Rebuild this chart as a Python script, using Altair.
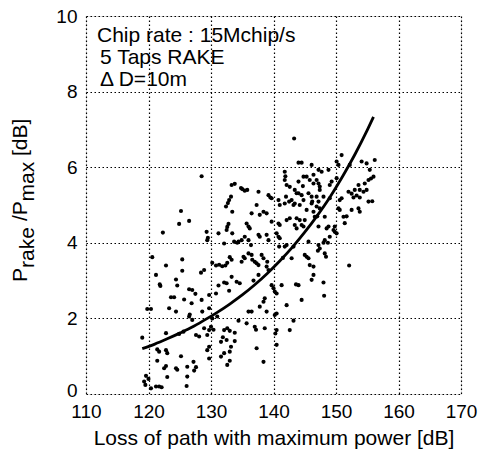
import altair as alt
import pandas as pd

# Scatter data: loss (dB) and Prake/Pmax (dB)
x_loss = [
    120.6, 122.8, 125.4, 125.4, 121.2, 121.8, 121.9, 124.4, 124.6, 126.5, 127.0, 124.1, 125.7, 128.4, 128.9,
    130.2, 130.8, 131.3, 131.8, 132.3, 132.6, 129.7, 130.8, 131.2, 132.1, 132.9, 128.5, 126.9, 119.8, 120.4,
    123.3, 124.4, 126.5, 127.0, 128.6, 129.7, 130.2, 131.0, 132.1, 132.6, 119.0, 121.4, 121.7, 122.8, 122.8,
    123.0, 124.9, 127.6, 128.1, 128.9, 129.7, 129.4, 131.9, 131.6, 133.2, 125.2, 126.2, 127.6, 127.3, 124.4,
    124.6, 122.8, 122.5, 121.4, 119.6, 119.3, 119.5, 121.2, 121.7, 122.1, 126.1, 126.2, 129.7, 131.6, 132.1,
    132.6, 129.7, 129.4, 130.0, 120.0, 120.4, 123.6,
    128.5, 125.2, 124.9, 126.5, 122.3, 129.3, 129.4, 129.5, 131.2, 132.5, 132.6, 132.8, 132.4, 132.7, 132.9,
    133.2, 133.4, 133.3, 132.1,
    141.8, 141.9, 141.8, 142.1, 144.8, 145.3, 146.4, 146.9, 133.8, 135.4, 137.6, 139.2, 139.7, 140.8, 142.0,
    143.4, 144.0, 144.5, 145.6, 146.1, 146.2, 147.4, 143.4, 144.2, 145.3, 146.6, 141.0, 141.8, 142.5, 138.4,
    138.9, 137.3, 136.5, 137.8, 139.7, 140.8, 141.0, 142.1, 142.6, 143.7, 144.2, 145.0, 143.4, 143.7, 144.5,
    144.8, 146.4, 135.7, 136.0, 136.2, 135.4, 136.0, 136.4, 137.6, 137.8, 138.9, 139.2, 140.5, 140.8, 141.0,
    141.8, 142.1, 134.4, 134.9, 133.7, 133.4, 133.0, 133.3, 135.2, 135.4, 134.9, 136.0, 136.5, 137.0, 137.3,
    137.6, 138.1, 138.4, 138.9, 139.2, 142.9, 143.2, 145.6, 145.0, 145.3, 145.6, 145.8, 146.4, 147.2, 147.4,
    148.2, 146.4, 135.0,
    133.3, 134.1, 134.6, 132.5, 137.6, 139.7, 140.0, 140.2, 140.5, 141.3, 144.0, 146.1, 144.5, 142.1, 138.6,
    138.4, 137.8, 138.9, 136.0, 136.5, 140.5, 140.2, 134.4, 135.7, 137.0, 138.6, 140.5, 140.3, 143.2, 142.6,
    133.0, 133.8, 132.5, 133.8, 140.5, 137.3, 133.0, 133.0, 138.4,
    150.9, 150.1, 150.4, 152.2, 154.1, 154.9, 156.2, 155.4, 147.2, 147.7, 148.8, 147.2, 147.4, 149.3, 149.0,
    146.9, 147.2, 149.0, 150.1, 153.6, 154.6, 155.2, 154.9, 152.0, 152.5, 153.3, 153.8, 154.4, 150.9, 150.6,
    150.4, 150.6, 152.5, 153.6, 153.8, 155.2, 146.9, 147.4, 148.2, 151.2, 149.8, 149.6, 149.0, 151.4, 148.8,
    148.5, 147.2, 153.0, 153.8,
    149.8, 150.1, 148.2, 148.0, 147.1, 148.4, 152.1, 148.0, 148.1,
    143.3, 144.0, 144.5, 146.1, 156.0, 144.0, 142.6, 143.7, 145.8, 146.4, 142.9, 143.2, 144.8, 146.1, 148.0,
    123.0, 125.6, 127.2, 130.4, 134.2, 135.8, 136.8, 139.0, 139.5, 140.9, 141.5, 143.6, 144.7, 147.0, 148.7,
    151.7, 152.8, 155.6, 155.8, 127.5, 126.6, 134.8, 136.6, 137.2,
]
y_ratio = [
    3.62, 3.40, 3.56, 3.26, 3.15, 2.90, 2.86, 3.03, 2.87, 2.77, 2.75, 2.56, 2.50, 3.21, 3.28,
    3.47, 3.40, 3.42, 3.38, 3.40, 3.47, 2.62, 2.66, 2.87, 2.95, 2.73, 2.49, 2.40, 2.25, 2.25,
    2.27, 2.18, 2.05, 1.96, 2.18, 2.27, 2.00, 2.05, 1.69, 1.74, 1.49, 1.18, 1.12, 1.61, 1.16,
    1.08, 1.59, 1.56, 1.52, 1.74, 1.25, 1.16, 1.50, 1.38, 1.25, 1.00, 0.72, 0.71, 0.62, 0.68,
    0.64, 0.74, 0.68, 0.88, 0.48, 0.33, 0.24, 0.20, 0.20, 0.18, 0.21, 0.46, 0.94, 0.99, 1.08,
    0.77, 1.69, 1.56, 1.78, 0.40, 0.15, 2.56,
    5.76, 4.84, 4.50, 4.58, 4.27, 4.29, 4.07, 4.13, 4.25, 4.34, 4.42, 4.50, 4.96, 5.05, 5.13,
    5.22, 4.82, 5.53, 3.98,
    5.88, 5.76, 5.66, 5.53, 5.75, 5.75, 5.80, 5.66, 5.56, 5.38, 5.35, 5.26, 5.18, 5.13, 5.22,
    5.40, 5.31, 5.26, 5.31, 5.22, 5.09, 5.40, 5.04, 5.00, 4.87, 4.69, 5.00, 5.04, 5.09, 4.82,
    4.78, 5.00, 4.78, 4.74, 4.56, 4.51, 4.47, 4.60, 4.65, 4.65, 4.60, 4.60, 4.47, 4.38, 4.47,
    4.43, 4.82, 4.51, 4.43, 4.38, 4.16, 4.07, 3.94, 4.21, 4.16, 4.21, 4.07, 4.25, 4.16, 4.12,
    3.90, 3.94, 4.03, 4.07, 4.03, 4.25, 3.62, 3.55, 3.63, 3.59, 3.50, 3.72, 3.68, 3.50, 3.46,
    3.41, 3.68, 3.59, 3.37, 3.28, 3.59, 3.90, 4.03, 3.68, 3.63, 3.59, 3.41, 3.37, 3.94, 3.85,
    3.72, 3.15, 5.42,
    3.10, 2.97, 2.93, 2.93, 3.15, 2.88, 2.80, 2.71, 2.66, 2.88, 2.88, 3.02, 2.49, 2.35, 2.53,
    2.44, 2.31, 2.18, 2.18, 2.18, 2.13, 2.09, 1.94, 1.87, 1.78, 1.74, 1.69, 1.60, 1.94, 1.69,
    1.67, 1.62, 1.43, 1.40, 1.30, 1.21, 1.12, 0.88, 0.85,
    6.32, 6.15, 6.06, 6.06, 6.15, 6.10, 6.19, 5.93, 5.93, 5.88, 5.93, 5.57, 5.49, 5.62, 5.53,
    5.22, 5.09, 5.18, 5.71, 5.53, 5.57, 5.66, 5.40, 5.35, 5.30, 5.25, 5.20, 5.35, 5.18, 5.13,
    4.91, 4.87, 4.87, 4.91, 4.82, 5.09, 4.96, 4.91, 4.69, 4.69, 4.43, 4.34, 4.16, 4.52, 4.43,
    4.38, 4.43, 5.40, 5.40,
    4.29, 4.25, 4.07, 4.00, 3.79, 3.63, 3.40, 2.95, 2.60,
    6.76, 6.12, 6.12, 6.06, 5.75, 5.62, 5.48, 5.31, 5.66, 5.57, 5.13, 5.00, 5.13, 5.04, 5.22,
    0.45, 1.65, 0.85, 1.70, 4.00, 5.40, 3.00, 3.50, 5.20, 3.90, 3.60, 2.90, 5.50, 4.70, 4.00,
    4.70, 5.20, 5.70, 5.10, 2.65, 2.10, 5.45, 3.55, 1.70,
]

# Fitted curve
curve_x = [119, 121, 123, 125, 127, 129, 131, 133, 135, 137, 139, 141, 143, 145, 147, 149, 151, 153, 155, 156]
curve_y = [1.20, 1.32, 1.46, 1.61, 1.77, 1.96, 2.16, 2.38, 2.62, 2.89, 3.19, 3.52, 3.88, 4.28, 4.72, 5.20,
           5.74, 6.33, 6.98, 7.33]

x_ticks = [110, 120, 130, 140, 150, 160, 170]
y_ticks = [0, 2, 4, 6, 8, 10]

FONT = "Liberation Sans"

pts = pd.DataFrame({"x": x_loss, "y": y_ratio})
crv = pd.DataFrame({"x": curve_x, "y": curve_y})
dummy = pd.DataFrame({"d": [0]})

xs = alt.Scale(domain=[110, 170], nice=False, zero=False)
ys = alt.Scale(domain=[0, 10], nice=False)

xaxis = alt.Axis(values=x_ticks, title="Loss of path with maximum power [dB]", format="d",
                 labelFontSize=19, titleFontSize=21, titleFontWeight="normal",
                 labelPadding=8, titlePadding=6, ticks=False, domain=False, labelFlush=False,
                 grid=True, gridDash=[1.5, 2.5], gridColor="black", gridWidth=1.2,
                 labelColor="black", titleColor="black", labelFont=FONT, titleFont=FONT)
yaxis = alt.Axis(values=y_ticks, title=None, format="d",
                 labelFontSize=19, labelPadding=9, ticks=False, domain=False, labelFlush=False,
                 labelOffset={"condition": {"test": "datum.value === 0", "value": -4}, "value": 0},
                 grid=True, gridDash=[1.5, 2.5], gridColor="black", gridWidth=1.2,
                 labelColor="black", labelFont=FONT)

scatter = alt.Chart(pts).mark_circle(size=17, color="black", opacity=1).encode(
    x=alt.X("x:Q", scale=xs, axis=xaxis),
    y=alt.Y("y:Q", scale=ys, axis=yaxis),
)
curve = alt.Chart(crv).mark_line(color="black", strokeWidth=2.8, interpolate="monotone").encode(
    x=alt.X("x:Q", scale=xs),
    y=alt.Y("y:Q", scale=ys),
)

def txt(s, x, y, size=21, angle=0):
    return alt.Chart(dummy).mark_text(text=s, font=FONT, fontSize=size, align="left",
                                      baseline="alphabetic", color="black", angle=angle).encode(
        x=alt.value(x), y=alt.value(y))

annot = [
    txt("Chip rate : 15Mchip/s", 11, 26),
    txt("5 Taps RAKE", 14, 48),
    txt("\u0394 D=10m", 14, 70),
    # y-axis title with lowered subscripts
    txt("P", -59, 266, 21, 270),
    txt("rake", -52, 252, 21, 270),
    txt("/P", -59, 205, 21, 270),
    txt("max", -52, 185.5, 21, 270),
    txt("[dB]", -59, 140, 21, 270),
]

chart = alt.layer(scatter, curve, *annot).properties(
    width=375, height=378,
    autosize=alt.AutoSizeParams(type="none"),
    padding={"left": 86, "top": 16, "right": 20, "bottom": 62},
).configure_view(stroke="black", strokeWidth=1.6).configure(background="white")

chart.save("out.html", embed_options={"renderer": "svg", "actions": False})
